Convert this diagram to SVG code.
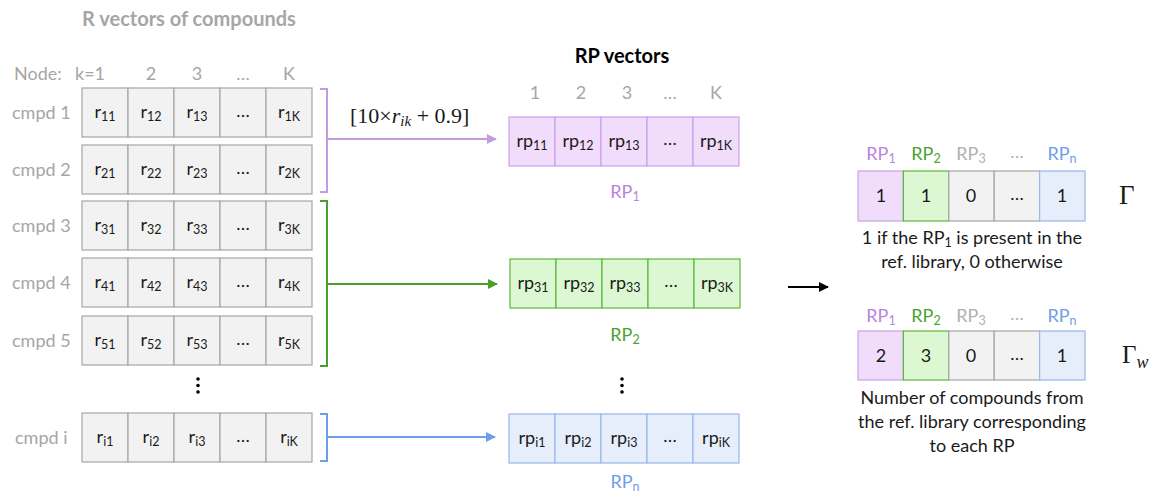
<svg xmlns="http://www.w3.org/2000/svg" width="1151" height="495" viewBox="0 0 1151 495">
  <defs>
    <style>
      text { font-family: Lato, "Liberation Sans", sans-serif; }
      .title { font-size: 20px; font-weight: bold; }
      .lbl { font-size: 18px; fill: #a6a6a6; }
      .cell { font-size: 18px; fill: #1a1a1a; text-anchor: middle; }
      .sub { font-size: 12.5px; }
      .mid { text-anchor: middle; }
      .cap { font-size: 18px; fill: #1a1a1a; text-anchor: middle; }
      .sg { fill: #f2f2f2; stroke: #a6a6a6; stroke-width: 1.2; }
      .sp { fill: #f2dcfb; stroke: #c8a2e8; stroke-width: 1.2; }
      .sgr { fill: #dcf8d3; stroke: #5cb83a; stroke-width: 1.2; }
      .sb { fill: #e6eefc; stroke: #98b6ee; stroke-width: 1.2; }
      text.math { font-family: "Liberation Serif", "DejaVu Serif", serif; fill: #1a1a1a; }
      .c1 { fill: #b784dc; }
      .c2 { fill: #4aa32e; }
      .c3 { fill: #b0b0b0; }
      .cn { fill: #6d9eeb; }
    </style>
    <marker id="ahP" markerWidth="10" markerHeight="10" refX="9" refY="5" orient="auto" markerUnits="userSpaceOnUse">
      <path d="M0,0 L10,5 L0,10 Z" fill="#c39be3"/>
    </marker>
    <marker id="ahG" markerWidth="10" markerHeight="10" refX="9" refY="5" orient="auto" markerUnits="userSpaceOnUse">
      <path d="M0,0 L10,5 L0,10 Z" fill="#4aa02c"/>
    </marker>
    <marker id="ahB" markerWidth="10" markerHeight="10" refX="9" refY="5" orient="auto" markerUnits="userSpaceOnUse">
      <path d="M0,0 L10,5 L0,10 Z" fill="#6d9eeb"/>
    </marker>
    <marker id="ahK" markerWidth="10" markerHeight="10" refX="9" refY="5" orient="auto" markerUnits="userSpaceOnUse">
      <path d="M0,0 L10,5 L0,10 Z" fill="#000"/>
    </marker>
    <!-- five-cell strip reused for every vector; fill and stroke come from the <use> -->
    <g id="strip5">
      <rect x="0" y="0" width="46" height="49"/>
      <rect x="46" y="0" width="46" height="49"/>
      <rect x="92" y="0" width="46" height="49"/>
      <rect x="138" y="0" width="46" height="49"/>
      <rect x="184" y="0" width="46" height="49"/>
    </g>
  </defs>

  <rect width="1151" height="495" fill="#fff"/>

  <!-- R vectors -->
  <g id="r-header">
    <text x="82" y="26" class="title" fill="#a6a6a6">R vectors of compounds</text>
    <text x="14" y="80" class="lbl">Node:</text>
    <text x="90" y="80" class="lbl mid">k=1</text>
    <text x="151" y="80" class="lbl mid">2</text>
    <text x="197" y="80" class="lbl mid">3</text>
    <text x="243" y="80" class="lbl mid">…</text>
    <text x="289" y="80" class="lbl mid">K</text>
  </g>

  <g id="cmpd1">
    <text x="12" y="119" class="lbl">cmpd 1</text>
    <use href="#strip5" x="82" y="88" class="sg"/>
    <text x="105" y="118" class="cell">r<tspan class="sub" dy="3">11</tspan></text>
    <text x="151" y="118" class="cell">r<tspan class="sub" dy="3">12</tspan></text>
    <text x="197" y="118" class="cell">r<tspan class="sub" dy="3">13</tspan></text>
    <text x="243" y="117" class="cell">…</text>
    <text x="289" y="118" class="cell">r<tspan class="sub" dy="3">1K</tspan></text>
  </g>
  <g id="cmpd2">
    <text x="12" y="176" class="lbl">cmpd 2</text>
    <use href="#strip5" x="82" y="145" class="sg"/>
    <text x="105" y="175" class="cell">r<tspan class="sub" dy="3">21</tspan></text>
    <text x="151" y="175" class="cell">r<tspan class="sub" dy="3">22</tspan></text>
    <text x="197" y="175" class="cell">r<tspan class="sub" dy="3">23</tspan></text>
    <text x="243" y="174" class="cell">…</text>
    <text x="289" y="175" class="cell">r<tspan class="sub" dy="3">2K</tspan></text>
  </g>
  <g id="cmpd3">
    <text x="12" y="232" class="lbl">cmpd 3</text>
    <use href="#strip5" x="82" y="201" class="sg"/>
    <text x="105" y="231" class="cell">r<tspan class="sub" dy="3">31</tspan></text>
    <text x="151" y="231" class="cell">r<tspan class="sub" dy="3">32</tspan></text>
    <text x="197" y="231" class="cell">r<tspan class="sub" dy="3">33</tspan></text>
    <text x="243" y="230" class="cell">…</text>
    <text x="289" y="231" class="cell">r<tspan class="sub" dy="3">3K</tspan></text>
  </g>
  <g id="cmpd4">
    <text x="12" y="289" class="lbl">cmpd 4</text>
    <use href="#strip5" x="82" y="258" class="sg"/>
    <text x="105" y="288" class="cell">r<tspan class="sub" dy="3">41</tspan></text>
    <text x="151" y="288" class="cell">r<tspan class="sub" dy="3">42</tspan></text>
    <text x="197" y="288" class="cell">r<tspan class="sub" dy="3">43</tspan></text>
    <text x="243" y="287" class="cell">…</text>
    <text x="289" y="288" class="cell">r<tspan class="sub" dy="3">4K</tspan></text>
  </g>
  <g id="cmpd5">
    <text x="12" y="347" class="lbl">cmpd 5</text>
    <use href="#strip5" x="82" y="316" class="sg"/>
    <text x="105" y="346" class="cell">r<tspan class="sub" dy="3">51</tspan></text>
    <text x="151" y="346" class="cell">r<tspan class="sub" dy="3">52</tspan></text>
    <text x="197" y="346" class="cell">r<tspan class="sub" dy="3">53</tspan></text>
    <text x="243" y="345" class="cell">…</text>
    <text x="289" y="346" class="cell">r<tspan class="sub" dy="3">5K</tspan></text>
  </g>
  <g id="r-dots" fill="#000">
    <circle cx="198" cy="379" r="1.8"/>
    <circle cx="198" cy="385.5" r="1.8"/>
    <circle cx="198" cy="392" r="1.8"/>
  </g>
  <g id="cmpdi">
    <text x="15" y="444" class="lbl">cmpd i</text>
    <use href="#strip5" x="82" y="413" class="sg"/>
    <text x="105" y="443" class="cell">r<tspan class="sub" dy="3">i1</tspan></text>
    <text x="151" y="443" class="cell">r<tspan class="sub" dy="3">i2</tspan></text>
    <text x="197" y="443" class="cell">r<tspan class="sub" dy="3">i3</tspan></text>
    <text x="243" y="442" class="cell">…</text>
    <text x="289" y="443" class="cell">r<tspan class="sub" dy="3">iK</tspan></text>
  </g>

  <!-- brackets and arrows -->
  <g id="connectors" fill="none" stroke-width="2">
    <path d="M320,89 H327 V192 H320 M327,139 H496" stroke="#c39be3" marker-end="url(#ahP)"/>
    <path d="M320,201 H327 V366 H320 M327,284 H497" stroke="#4aa02c" marker-end="url(#ahG)"/>
    <path d="M320,414 H327 V461 H320 M327,437 H495" stroke="#6d9eeb" marker-end="url(#ahB)"/>
    <path d="M788,287 H828" stroke="#000" marker-end="url(#ahK)"/>
  </g>

  <g id="formula">
    <text x="350" y="123" class="math" font-size="22">[10×<tspan font-style="italic">r</tspan><tspan font-style="italic" font-size="15" dy="3">ik</tspan><tspan dy="-3"> + 0.9]</tspan></text>
  </g>

  <!-- RP vectors -->
  <g id="rp-header">
    <text x="622" y="63" class="title mid" fill="#000">RP vectors</text>
    <text x="535" y="99" class="lbl mid">1</text>
    <text x="581" y="99" class="lbl mid">2</text>
    <text x="627" y="99" class="lbl mid">3</text>
    <text x="670" y="99" class="lbl mid">…</text>
    <text x="716" y="99" class="lbl mid">K</text>
  </g>
  <g id="rp1">
    <use href="#strip5" x="509" y="117" class="sp"/>
    <text x="532" y="147" class="cell">rp<tspan class="sub" dy="3">11</tspan></text>
    <text x="578" y="147" class="cell">rp<tspan class="sub" dy="3">12</tspan></text>
    <text x="624" y="147" class="cell">rp<tspan class="sub" dy="3">13</tspan></text>
    <text x="670" y="145" class="cell">…</text>
    <text x="716" y="147" class="cell">rp<tspan class="sub" dy="3">1K</tspan></text>
    <text x="625" y="198" class="lbl mid c1">RP<tspan class="sub" dy="3">1</tspan></text>
  </g>
  <g id="rp2">
    <use href="#strip5" x="510" y="259" class="sgr"/>
    <text x="533" y="289" class="cell">rp<tspan class="sub" dy="3">31</tspan></text>
    <text x="579" y="289" class="cell">rp<tspan class="sub" dy="3">32</tspan></text>
    <text x="625" y="289" class="cell">rp<tspan class="sub" dy="3">33</tspan></text>
    <text x="671" y="287" class="cell">…</text>
    <text x="717" y="289" class="cell">rp<tspan class="sub" dy="3">3K</tspan></text>
    <text x="625" y="341" class="lbl mid c2">RP<tspan class="sub" dy="3">2</tspan></text>
  </g>
  <g id="rp-dots" fill="#000">
    <circle cx="622" cy="379" r="1.8"/>
    <circle cx="622" cy="385.5" r="1.8"/>
    <circle cx="622" cy="392" r="1.8"/>
  </g>
  <g id="rpn">
    <use href="#strip5" x="509" y="414" class="sb"/>
    <text x="532" y="444" class="cell">rp<tspan class="sub" dy="3">i1</tspan></text>
    <text x="578" y="444" class="cell">rp<tspan class="sub" dy="3">i2</tspan></text>
    <text x="624" y="444" class="cell">rp<tspan class="sub" dy="3">i3</tspan></text>
    <text x="670" y="442" class="cell">…</text>
    <text x="716" y="444" class="cell">rp<tspan class="sub" dy="3">iK</tspan></text>
    <text x="625" y="488" class="lbl mid cn">RP<tspan class="sub" dy="3">n</tspan></text>
  </g>

  <!-- presence vector Γ -->
  <g id="gamma">
    <text x="881" y="160" class="lbl mid c1">RP<tspan class="sub" dy="3">1</tspan></text>
    <text x="926" y="160" class="lbl mid c2">RP<tspan class="sub" dy="3">2</tspan></text>
    <text x="971" y="160" class="lbl mid c3">RP<tspan class="sub" dy="3">3</tspan></text>
    <text x="1017" y="158" class="lbl mid c3">…</text>
    <text x="1062" y="160" class="lbl mid cn">RP<tspan class="sub" dy="3">n</tspan></text>
    <rect x="858" y="171" width="45.4" height="50" class="sp"/>
    <rect x="903.4" y="171" width="45.4" height="50" class="sgr"/>
    <rect x="948.8" y="171" width="45.4" height="50" class="sg"/>
    <rect x="994.2" y="171" width="45.4" height="50" class="sg"/>
    <rect x="1039.6" y="171" width="45.4" height="50" class="sb"/>
    <text x="881" y="202" class="cell">1</text>
    <text x="926" y="202" class="cell">1</text>
    <text x="971" y="202" class="cell">0</text>
    <text x="1017" y="200" class="cell">…</text>
    <text x="1062" y="202" class="cell">1</text>
    <text x="972" y="244" class="cap">1 if the RP<tspan class="sub" dy="3">1</tspan><tspan dy="-3"> is present in the</tspan></text>
    <text x="972" y="268" class="cap">ref. library, 0 otherwise</text>
    <text x="1119" y="204" class="math" font-size="27">Γ</text>
  </g>

  <!-- weighted vector Γw -->
  <g id="gamma-w">
    <text x="881" y="322" class="lbl mid c1">RP<tspan class="sub" dy="3">1</tspan></text>
    <text x="926" y="322" class="lbl mid c2">RP<tspan class="sub" dy="3">2</tspan></text>
    <text x="971" y="322" class="lbl mid c3">RP<tspan class="sub" dy="3">3</tspan></text>
    <text x="1017" y="320" class="lbl mid c3">…</text>
    <text x="1062" y="322" class="lbl mid cn">RP<tspan class="sub" dy="3">n</tspan></text>
    <rect x="858" y="331" width="45.4" height="49" class="sp"/>
    <rect x="903.4" y="331" width="45.4" height="49" class="sgr"/>
    <rect x="948.8" y="331" width="45.4" height="49" class="sg"/>
    <rect x="994.2" y="331" width="45.4" height="49" class="sg"/>
    <rect x="1039.6" y="331" width="45.4" height="49" class="sb"/>
    <text x="881" y="362" class="cell">2</text>
    <text x="926" y="362" class="cell">3</text>
    <text x="971" y="362" class="cell">0</text>
    <text x="1017" y="360" class="cell">…</text>
    <text x="1062" y="362" class="cell">1</text>
    <text x="972" y="404" class="cap">Number of compounds from</text>
    <text x="972" y="428" class="cap">the ref. library corresponding</text>
    <text x="972" y="452" class="cap">to each RP</text>
    <text x="1122" y="363" class="math" font-size="25">Γ<tspan font-style="italic" font-size="18" dy="5">w</tspan></text>
  </g>
</svg>
